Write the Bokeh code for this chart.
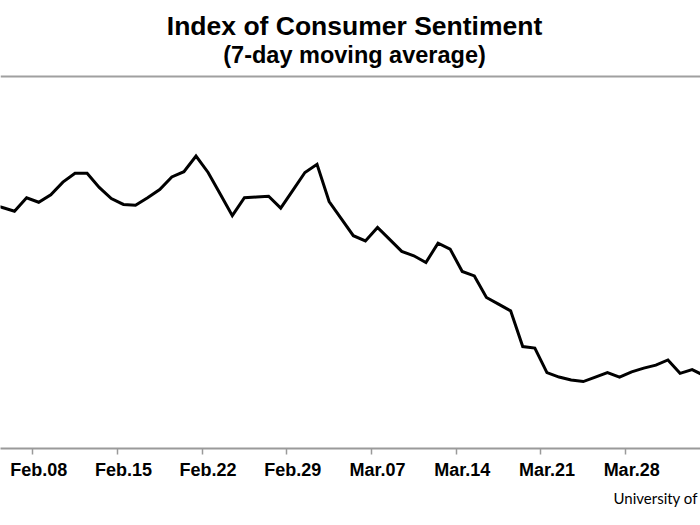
import pandas as pd
from bokeh.plotting import figure
from bokeh.models import Range1d, FixedTicker, Span, Label, Title
from bokeh.embed import file_html
from bokeh.resources import INLINE

title_text = "Index of Consumer Sentiment"
subtitle_text = "(7-day moving average)"
source_text = "University of"
start_date = "2020-02-04"
values = [92.9, 92.4, 91.9, 93.7, 93.1, 94.1, 95.8, 97.0, 97.0, 95.1,
          93.6, 92.8, 92.7, 93.7, 94.8, 96.5, 97.2, 99.3, 97.1, 94.2,
          91.3, 93.7, 93.8, 93.9, 92.3, 94.7, 97.1, 98.2, 93.2, 90.9,
          88.6, 87.9, 89.7, 88.1, 86.5, 85.9, 85.0, 87.6, 86.8, 83.8,
          83.2, 80.3, 79.4, 78.5, 73.7, 73.5, 70.2, 69.6, 69.2, 69.0,
          69.6, 70.2, 69.6, 70.3, 70.8, 71.2, 71.9, 70.1, 70.6, 69.8]
tick_dates = ["2020-02-08", "2020-02-15", "2020-02-22", "2020-02-29",
              "2020-03-07", "2020-03-14", "2020-03-21", "2020-03-28", "2020-04-04"]

t0 = pd.Timestamp(start_date)
dates = pd.date_range(start_date, periods=len(values), freq="D")
xs = [(d - t0).days for d in dates]
tick_pos = [(pd.Timestamp(d) - t0).days for d in tick_dates]
tick_lab = [pd.Timestamp(d).strftime("%b.%d") for d in tick_dates]

p = figure(width=700, height=525, output_backend="svg", toolbar_location=None,
           x_range=Range1d(0.843, 58.69), y_range=Range1d(60, 120.215),
           y_axis_location=None, min_border_left=0, min_border_right=0,
           min_border_top=0, min_border_bottom=77)
p.outline_line_color = None
p.xgrid.visible = False
p.ygrid.visible = False
p.background_fill_color = "white"
p.border_fill_color = "white"

p.line(xs, values, line_color="black", line_width=3, line_join="miter")

ax = p.xaxis[0]
ax.ticker = FixedTicker(ticks=tick_pos, minor_ticks=[t - 0.5 for t in tick_pos])
ax.major_label_overrides = {t: l for t, l in zip(tick_pos, tick_lab)}
ax.axis_line_color = "#9a9a9a"
ax.axis_line_width = 2
ax.major_tick_line_color = None
ax.major_tick_in = 0
ax.major_tick_out = 0
ax.minor_tick_line_color = "#9a9a9a"
ax.minor_tick_line_width = 1.5
ax.minor_tick_in = 0
ax.minor_tick_out = 6
ax.major_label_standoff = 5
ax.major_label_text_font = "Liberation Sans"
ax.major_label_text_font_style = "bold"
ax.major_label_text_font_size = "18px"
ax.major_label_text_color = "black"

p.add_layout(Span(location=110, dimension="width", line_color="#a0a0a0", line_width=2))

font = "Liberation Sans"
p.add_layout(Label(x=30.1, y=116.75, text=title_text, text_align="center",
                   text_baseline="alphabetic", text_font=font, text_font_style="bold",
                   text_font_size="26.5px", text_color="black"))
p.add_layout(Label(x=30.1, y=112.9, text=subtitle_text, text_align="center",
                   text_baseline="alphabetic", text_font=font, text_font_style="bold",
                   text_font_size="23.5px", text_color="black"))

p.add_layout(Title(text=source_text, align="left", offset=613, standoff=8,
                   text_font="Lato", text_font_style="normal",
                   text_font_size="15px", text_color="black"), "below")

open("out.html", "w").write(file_html(p, INLINE))
